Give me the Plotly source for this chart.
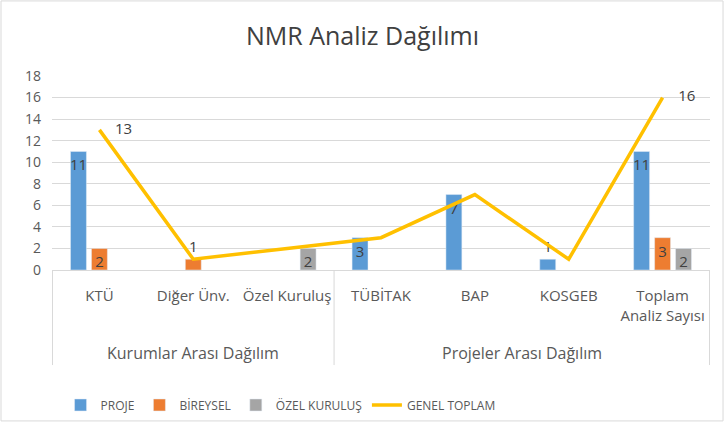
import plotly.graph_objects as go

categories = ["KTÜ", "Diğer Ünv.", "Özel Kuruluş", "TÜBİTAK", "BAP", "KOSGEB", "Toplam<br>Analiz Sayısı"]
group_names = ["Kurumlar Arası Dağılım", "Projeler Arası Dağılım"]
group_sizes = [3, 4]
proje = [11, None, None, 3, 7, 1, 11]
bireysel = [2, 1, None, None, None, None, 3]
ozel = [None, None, 2, None, None, None, 2]
genel = [13, 1, 2, 3, 7, 1, 16]
genel_labels = ["13", "", "", "", "", "", "16"]

FONT = "Open Sans"
TXT = "#404040"
AX = "#595959"
GRID = "#d9d9d9"

def lbl(vals):
    return [("" if v is None else str(v)) for v in vals]

def pos(vals):
    return [("outside" if (v is not None and v < 2) else "inside") for v in vals]

fig = go.Figure()
for name, vals, col in [("PROJE", proje, "#5B9BD5"),
                        ("BİREYSEL", bireysel, "#ED7D31"),
                        ("ÖZEL KURULUŞ", ozel, "#A5A5A5")]:
    fig.add_trace(go.Bar(x=categories, y=vals, name=name, marker_color=col,
                         text=lbl(vals), textposition=pos(vals), insidetextanchor="end",
                         textangle=0, constraintext="none", cliponaxis=False,
                         textfont=dict(family=FONT, size=15, color=TXT),
                         outsidetextfont=dict(family=FONT, size=15, color=TXT)))
fig.add_trace(go.Scatter(x=categories, y=genel, name="GENEL TOPLAM", mode="lines+text",
                         line=dict(color="#FFC000", width=3.5),
                         text=["    " + t if t else "" for t in genel_labels],
                         textposition="middle right", cliponaxis=False,
                         textfont=dict(family=FONT, size=15, color=TXT)))

shapes = []
annotations = []
start = -0.5
bounds = [start]
for name, n in zip(group_names, group_sizes):
    end = start + n
    annotations.append(dict(x=(start + end) / 2, y=-0.428, xref="x", yref="paper",
                            text=name, showarrow=False, yanchor="middle",
                            font=dict(family=FONT, size=16, color=AX)))
    bounds.append(end)
    start = end
for b in bounds:
    shapes.append(dict(type="line", xref="x", yref="paper", x0=b, x1=b, y0=0, y1=-0.49,
                       line=dict(color=GRID, width=1)))
shapes.append(dict(type="rect", xref="paper", yref="paper", x0=-0.0775, x1=1.0198,
                   y0=-0.778, y1=1.387, line=dict(color=GRID, width=1)))

fig.update_layout(
    width=725, height=423,
    paper_bgcolor="white", plot_bgcolor="white",
    margin=dict(l=52, r=15, t=76, b=153),
    title=dict(text="NMR Analiz Dağılımı", x=0.5, xanchor="center", y=0.915, yanchor="middle",
               font=dict(family=FONT, size=25, color=TXT)),
    barmode="group", bargap=0.33, bargroupgap=0.24,
    font=dict(family=FONT, size=14, color=AX),
    showlegend=True,
    legend=dict(orientation="h", x=0.013, xanchor="left", xref="paper",
                y=0.0426, yanchor="middle", yref="container",
                font=dict(family=FONT, size=12, color=AX)),
    xaxis=dict(type="category", showline=True, linecolor=GRID, linewidth=1, automargin=False,
               ticks="", ticklabelstandoff=12,
               tickfont=dict(family=FONT, size=15, color=AX)),
    yaxis=dict(range=[0, 18], dtick=2, showgrid=True, gridcolor=GRID, gridwidth=1,
               zeroline=False, automargin=False,
               tickfont=dict(family=FONT, size=14, color=AX), ticklabelstandoff=10),
    shapes=shapes, annotations=annotations,
)
fig.write_html("out.html", config={"displayModeBar": False},
               post_script="document.body.style.margin='0';document.body.style.overflow='hidden';")
